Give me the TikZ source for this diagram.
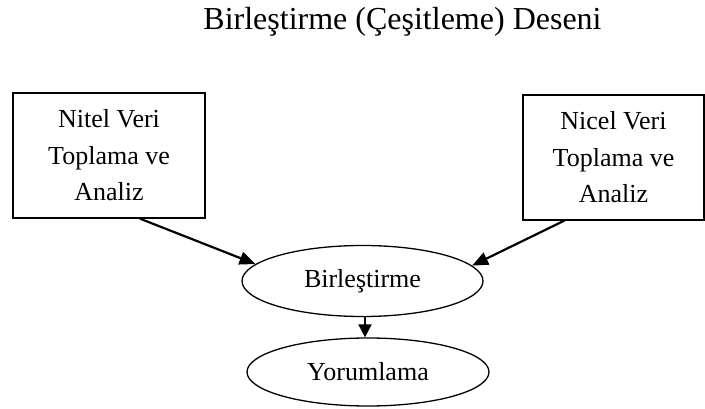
\documentclass[tikz,border=0pt]{standalone}
\usepackage{fontspec}
\setmainfont{Liberation Serif}
\usetikzlibrary{shapes.geometric,arrows.meta,calc}
\begin{document}
\begin{tikzpicture}[x=1pt,y=-1pt,
  boxnode/.style={draw,line width=1.3pt,rectangle,inner sep=0pt,align=center,
    font=\fontsize{26}{36.5}\selectfont},
  ellnode/.style={draw,line width=1.3pt,ellipse,inner sep=0pt,
    font=\fontsize{26}{30}\selectfont},
  conn/.style={line width=2.2pt,-{Triangle[length=16pt,width=13pt]}}]
\useasboundingbox (0,0) rectangle (705,409);
\node[font=\fontsize{32}{38}\selectfont] (title) at (402.5,22) {Birleştirme (Çeşitleme) Deseni};
\node[boxnode,minimum width=192pt,minimum height=125pt] (l) at (109,155.5) {Nitel Veri\\Toplama ve\\Analiz};
\node[boxnode,minimum width=181pt,minimum height=125pt] (r) at (613.5,157.5) {Nicel Veri\\Toplama ve\\Analiz};
\node[ellnode,minimum width=241pt,minimum height=71pt] (b) at (362.5,281) {Birleştirme};
\node[ellnode,minimum width=242pt,minimum height=68pt] (y) at (368,372) {Yorumlama};
\draw[conn] ($(l.south west)!0.66!(l.south east)$) -- (b.171);
\draw[conn] ($(r.south west)!0.23!(r.south east)$) -- (b.8);
\draw[conn,-{Triangle[length=13pt,width=13pt]}] (b.south -| 365,0) -- (y.north -| 365,0);
\end{tikzpicture}
\end{document}
